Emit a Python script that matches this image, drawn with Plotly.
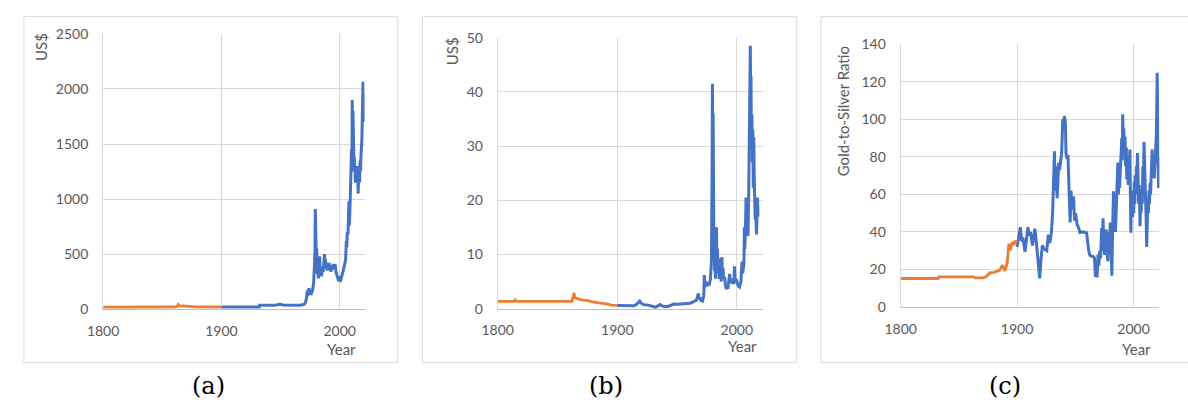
import plotly.graph_objects as go

W, H = 1188, 407

# ---------------- data (years) ----------------
gold_orange_years = [1800, 1814.5, 1815, 1815.5, 1833, 1834, 1861, 1862.5, 1863.5, 1864.3, 1866, 1868, 1872, 1878, 1880, 1900]
gold_orange_values = [19.5, 19.5, 22, 19.5, 19.5, 20.7, 20.7, 27, 42, 32, 30, 28, 24, 21, 20.7, 20.7]

gold_blue_years = [1900, 1932, 1932.3, 1945, 1948, 1950, 1952, 1958, 1966, 1969, 1970, 1971, 1972, 1972.5, 1973,
                   1974, 1975, 1976, 1977, 1978, 1978.7, 1979.1, 1979.4, 1979.7, 1980, 1980.3, 1980.6, 1981,
                   1981.5, 1982, 1982.5, 1983, 1983.5, 1984, 1984.5, 1985, 1985.5, 1986, 1986.7, 1987.2, 1987.6,
                   1988, 1988.5, 1989, 1989.5, 1990, 1990.5, 1991.1, 1991.6, 1992, 1992.6, 1993.3, 1994, 1994.6,
                   1995.2, 1996.1, 1996.8, 1997.5, 1998.3, 1999, 1999.5, 2000.3, 2001, 2001.5, 2002.2, 2003,
                   2003.8, 2004.4, 2005, 2005.6, 2006, 2006.4, 2007, 2007.8, 2008.2, 2008.9, 2009.3, 2009.6,
                   2010, 2010.3, 2010.6, 2010.9, 2011.2, 2011.5, 2011.8, 2012.1, 2012.4, 2012.7, 2013, 2013.3,
                   2013.6, 2013.9, 2014.2, 2014.6, 2015, 2015.3, 2015.6, 2016, 2016.4, 2016.8, 2017.2, 2017.6,
                   2018, 2018.4, 2018.8, 2019.1, 2019.4, 2019.7, 2020, 2020.3, 2020.6, 2020.9, 2021.2]
gold_blue_values = [20.7, 20.7, 35, 35, 42, 45, 38, 36, 36, 40, 45, 60, 100, 170, 120,
                    190, 145, 140, 170, 240, 380, 520, 910, 600, 700, 400, 550, 320,
                    400, 280, 430, 480, 380, 350, 300, 330, 380, 340, 430, 500, 420,
                    450, 370, 400, 350, 420, 370, 420, 360, 380, 340, 400, 360, 410,
                    370, 410, 340, 310, 280, 260, 300, 250, 270, 300, 320, 350,
                    400, 430, 450, 620, 560, 700, 680, 980, 760, 1000, 1250, 1150,
                    1450, 1250, 1900, 1550, 1800, 1500, 1750, 1300, 1380, 1200, 1350, 1150,
                    1300, 1180, 1280, 1150, 1300, 1120, 1050, 1200, 1250, 1150, 1350, 1250,
                    1400, 1450, 1550, 1750, 1950, 2065, 1800, 1950, 1700, 1900, 1780]

silver_orange_years = [1800, 1813.5, 1814.6, 1815.5, 1850, 1862, 1863.3, 1863.8, 1864.5, 1866, 1870, 1875.6,
                       1878, 1881, 1886, 1889.4, 1892, 1895, 1900]
silver_orange_values = [1.35, 1.35, 1.6, 1.35, 1.35, 1.35, 2.4, 2.9, 2.0, 1.95, 1.6, 1.5,
                        1.3, 1.2, 1.1, 1.05, 0.85, 0.65, 0.6]

silver_blue_years = [1900, 1905, 1910, 1914, 1916, 1918.8, 1920, 1922.4, 1926, 1929, 1932, 1934, 1936, 1938,
                     1940.3, 1943, 1947.2, 1950, 1955, 1961, 1964, 1966.4, 1967.8, 1968.5, 1969.2, 1970,
                     1971.4, 1972.4, 1972.8, 1973.4, 1974, 1975, 1976, 1977, 1978, 1978.8, 1979.3, 1979.6,
                     1979.9, 1980.2, 1980.5, 1980.8, 1981.1, 1981.4, 1981.8, 1982.2, 1982.6, 1983, 1983.4,
                     1983.8, 1984.3, 1984.8, 1985.3, 1985.7, 1986.2, 1986.6, 1987, 1987.5, 1988, 1988.5,
                     1989, 1989.8, 1990.4, 1991.2, 1992, 1992.6, 1993.2, 1994, 1994.8, 1995.5, 1996.1, 1997,
                     1997.6, 1998, 1998.5, 1999.2, 2000, 2000.6, 2001.2, 2002.2, 2002.8, 2003.5, 2004,
                     2004.4, 2004.9, 2005.5, 2006, 2006.3, 2006.7, 2007.2, 2007.7, 2008, 2008.3, 2008.6,
                     2009, 2009.4, 2009.7, 2010, 2010.5, 2010.9, 2011.3, 2011.6, 2011.9, 2012.2, 2012.7,
                     2013, 2013.4, 2013.8, 2014.2, 2014.6, 2015.0, 2015.4, 2015.8, 2016.1, 2016.5, 2016.9,
                     2017.3, 2017.7]
silver_blue_values = [0.6, 0.55, 0.5, 0.55, 0.75, 1.4, 1.0, 0.7, 0.65, 0.45, 0.25, 0.5, 0.75, 0.45,
                      0.35, 0.45, 0.85, 0.8, 0.9, 1.0, 1.3, 1.6, 2.8, 1.8, 2.0, 1.5,
                      1.4, 2.5, 6.2, 4.0, 5.0, 4.2, 4.6, 4.5, 5.5, 9, 25, 41.5,
                      30, 36, 15, 12, 14.5, 7, 9, 5.5, 11, 15, 9,
                      11, 6.5, 8.5, 5.5, 9.3, 5.5, 6, 5, 9.5, 6.5, 7.5,
                      5.5, 5.8, 4.5, 3.6, 4, 3.7, 5, 6.4, 4.8, 5.5, 4.6, 5.5,
                      4.5, 7.8, 5.5, 5.3, 5.2, 4.6, 4.2, 4.0, 4.6, 5, 7.5,
                      8.7, 6.5, 7.2, 8.5, 15, 11, 14, 20.5, 15, 19, 20.5,
                      20, 13.4, 18, 22, 30, 40, 48.5, 38, 43, 30, 35.8,
                      27, 33, 22.3, 31.7, 24, 19, 16.4, 18, 15, 13.7, 17,
                      20.5, 17]

ratio_orange_years = [1800, 1832.3, 1832.6, 1863, 1864, 1870, 1873, 1876, 1877, 1880, 1883, 1885, 1887.3,
                      1888.5, 1889.5, 1890.5, 1891.5, 1892.9, 1894.3, 1895.7, 1897.1, 1898.5, 1900]
ratio_orange_values = [15.2, 15.2, 16, 16, 15.5, 15.5, 16, 17.5, 18.3, 18.5, 19, 19.5, 22.2,
                       21, 19.2, 21, 23.4, 33.6, 30.2, 34.5, 33, 35.3, 34]

ratio_blue_years = [1900, 1901, 1902.8, 1904, 1905, 1906.8, 1908, 1909.3, 1910.5, 1911.5, 1913.2, 1914, 1915.2,
                    1916, 1917.5, 1918.5, 1919.4, 1920.5, 1921.7, 1923, 1924.5, 1925.5, 1926.8, 1927.8,
                    1928.7, 1929.5, 1930.5, 1931.3, 1932.1, 1932.8, 1933.5, 1934.4, 1935, 1935.8, 1936.5,
                    1937.5, 1938.3, 1939.2, 1940, 1940.6, 1941.5, 1942, 1942.8, 1943.7, 1944.5, 1945, 1945.6,
                    1946.3, 1947, 1948.5, 1949.3, 1950.3, 1951.5, 1953, 1954, 1956, 1959.7, 1960.5, 1961.5,
                    1962.5, 1964, 1965.5, 1966.5, 1967.3, 1968, 1968.7, 1969.5, 1970.2, 1971, 1971.8, 1972.6,
                    1973.2, 1973.8, 1974.4, 1975.2, 1975.8, 1976.6, 1977.2, 1978, 1978.7, 1979.3, 1980,
                    1980.5, 1981, 1981.4, 1982, 1982.5, 1982.8, 1983.5, 1984, 1984.5, 1985, 1985.6, 1986,
                    1986.5, 1987, 1987.6, 1988, 1988.7, 1989.3, 1989.9, 1990.3, 1990.7, 1991.2, 1991.7,
                    1992.2, 1992.7, 1993.2, 1993.8, 1994.2, 1994.9, 1995.5, 1996.2, 1996.9, 1997.3, 1997.7,
                    1998.2, 1998.8, 1999.3, 1999.8, 2000.2, 2000.6, 2001.1, 2001.5, 2002, 2002.5, 2003,
                    2003.4, 2003.9, 2004.4, 2004.9, 2005.3, 2005.6, 2006, 2006.5, 2007, 2007.5, 2008, 2008.6,
                    2009, 2009.4, 2009.8, 2010.3, 2010.8, 2011.3, 2011.8, 2012.3, 2012.8, 2013.2, 2013.7,
                    2014.2, 2014.6, 2015, 2015.5, 2016, 2016.4, 2016.9, 2017.4, 2017.8, 2018.3, 2018.8,
                    2019.2, 2019.6, 2020, 2020.3, 2020.6, 2020.9, 2021.2, 2021.5, 2021.9]
ratio_blue_values = [32, 36, 42.5, 35, 37, 29.4, 36, 42.5, 38, 40, 32.8, 36, 41.7,
                     38, 26, 20, 15.3, 25, 32.8, 31, 30.3, 30, 38.6, 34,
                     36, 40, 50, 70, 83, 62, 75, 58, 70, 77, 73,
                     78.8, 82, 100, 96, 101.7, 98, 82, 79, 81, 70, 55, 45,
                     62, 52, 59, 46, 49.8, 44, 42, 39.6, 40, 39.6, 35, 30,
                     27.7, 27, 26.9, 26, 16, 22, 15.8, 28, 22, 30, 26, 42,
                     30, 47.3, 35, 27.7, 38, 41.3, 30, 24.3, 40, 30, 45,
                     36, 28, 16.7, 40, 50, 61.7, 45, 52, 40, 48, 55, 70,
                     77, 60, 72, 63.4, 75, 82, 90, 78, 102.6, 88, 95,
                     82, 90.7, 75, 85, 68, 72, 65, 75, 83.9, 60, 39.6,
                     55, 62, 48, 60, 50, 66.8, 55, 70, 60, 75, 72,
                     82, 62, 55, 65, 50, 43, 56, 50, 62, 55, 75, 70,
                     88, 72, 60, 58, 48, 32, 45, 56.6, 50, 62, 55,
                     66, 60, 72, 78, 83.9, 70, 76, 80, 68.5, 76, 82,
                     85, 92, 110, 124.7, 110, 85, 70, 63.4, 80]

x_ticks = [1800, 1900, 2000]
gold_ticks = [0, 500, 1000, 1500, 2000, 2500]
silver_ticks = [0, 10, 20, 30, 40, 50]
ratio_ticks = [0, 20, 40, 60, 80, 100, 120, 140]

BLUE = "#4472C4"
ORANGE = "#ED7D31"
GRID = "#d9d9d9"
TXT = "#595959"
FONT = "Lato"

def px(x):
    return x / W

def py(y):
    return 1 - y / H

fig = go.Figure()

panels = [
    ("x", "y", gold_orange_years, gold_orange_values, gold_blue_years, gold_blue_values),
    ("x2", "y2", silver_orange_years, silver_orange_values, silver_blue_years, silver_blue_values),
    ("x3", "y3", ratio_orange_years, ratio_orange_values, ratio_blue_years, ratio_blue_values),
]
for xa, ya, ox, oy, bx, by in panels:
    fig.add_trace(go.Scatter(x=bx, y=by, mode="lines", line=dict(color=BLUE, width=3),
                             xaxis=xa, yaxis=ya, showlegend=False, hoverinfo="skip"))
    fig.add_trace(go.Scatter(x=ox, y=oy, mode="lines", line=dict(color=ORANGE, width=2.8),
                             xaxis=xa, yaxis=ya, showlegend=False, hoverinfo="skip"))

# plot-area geometry in pixels: (left, right, top, bottom)
geo = [(88.3, 353.3, 26, 313.3), (488.3, 757.3, 30, 312.7), (896.7, 1159, 36.7, 311)]
xranges = [[1800, 2021], [1800, 2022], [1800, 2022.2]]
yranges = [[0, 2500], [0, 50], [0, 140]]
yticks = [gold_ticks, silver_ticks, ratio_ticks]

common_x = dict(tickvals=x_ticks, showgrid=True, gridcolor=GRID, gridwidth=1, zeroline=False,
                showline=True, linecolor="#bfbfbf", linewidth=1, ticks="outside", ticklen=9,
                tickcolor="rgba(0,0,0,0)", tickfont=dict(family=FONT, size=14, color=TXT))
common_y = dict(showgrid=True, gridcolor=GRID, gridwidth=1, zeroline=False,
                showline=True, linecolor=GRID, linewidth=1, ticks="outside", ticklen=11,
                tickcolor="rgba(0,0,0,0)", tickfont=dict(family=FONT, size=14, color=TXT))

layout_axes = {}
for i, ((l, r, t, b), xr, yr, yt) in enumerate(zip(geo, xranges, yranges, yticks)):
    sx = "" if i == 0 else str(i + 1)
    layout_axes["xaxis" + sx] = dict(common_x, domain=[px(l), px(r)], range=xr,
                                     anchor="y" + sx)
    layout_axes["yaxis" + sx] = dict(common_y, domain=[py(b), py(t)], range=yr,
                                     tickvals=yt, anchor="x" + sx)

fig.update_layout(**layout_axes)

frames = [(8, 387, 8, 369), (412, 791, 8, 369), (816, 1200, 8, 369)]
shapes = []
for x0, x1, y0, y1 in frames:
    shapes.append(dict(type="rect", xref="paper", yref="paper", x0=px(x0), x1=px(x1),
                       y0=py(y1), y1=py(y0), line=dict(color=GRID, width=1),
                       fillcolor="rgba(0,0,0,0)", layer="below"))

ann = []
for text, x, y in [("US$", 26, 40), ("US$", 442, 44), ("Gold-to-Silver Ratio", 838, 107)]:
    ann.append(dict(text=text, x=px(x), y=py(y), xref="paper", yref="paper", showarrow=False,
                    textangle=-90, xanchor="center", yanchor="middle",
                    font=dict(family=FONT, size=15, color=TXT)))
for x, y in [(347, 355), (753, 352), (1153, 355)]:
    ann.append(dict(text="Year", x=px(x), y=py(y), xref="paper", yref="paper", showarrow=False,
                    xanchor="right", yanchor="middle", font=dict(family=FONT, size=15, color=TXT)))
for text, x in [("(a)", 195), ("(b)", 598.5), ("(c)", 1002)]:
    ann.append(dict(text=text, x=px(x), y=py(393), xref="paper", yref="paper", showarrow=False,
                    xanchor="center", yanchor="middle",
                    font=dict(family="DejaVu Serif", size=24, color="#000000")))

fig.update_layout(width=W, height=H, margin=dict(l=0, r=0, t=0, b=0),
                  paper_bgcolor="white", plot_bgcolor="white",
                  shapes=shapes, annotations=ann, showlegend=False)

fig.write_html("out.html")
